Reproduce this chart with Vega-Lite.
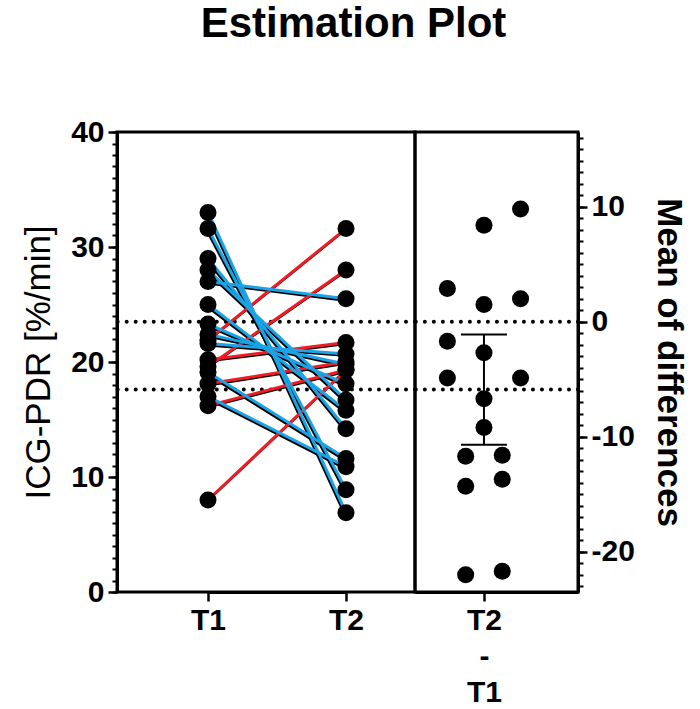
{
  "$schema": "https://vega.github.io/schema/vega-lite/v6.json",
  "background": "white",
  "padding": {"left": 20, "top": 2, "right": 2, "bottom": 0},
  "title": {"text": "Estimation Plot", "fontSize": 42, "font": "Liberation Sans", "fontWeight": "bold", "anchor": "middle", "offset": 70, "color": "black"},
  "config": {
    "font": "Liberation Sans",
    "view": {"stroke": "black", "strokeWidth": 3},
    "axis": {"domainColor": "black", "domainWidth": 3, "tickColor": "black", "tickWidth": 2.5, "labelColor": "black", "labelFont": "Liberation Sans", "labelFontWeight": "bold", "labelFontSize": 30, "titleColor": "black", "titleFont": "Liberation Sans", "grid": false}
  },
  "spacing": 0,
  "bounds": "flush",
  "datasets": {
    "pairs": [
      {"id": "r1", "time": "T1", "value": 21.9, "dir": "up"}, {"id": "r1", "time": "T2", "value": 31.6, "dir": "up"},
      {"id": "r2", "time": "T1", "value": 19.6, "dir": "up"}, {"id": "r2", "time": "T2", "value": 28.0, "dir": "up"},
      {"id": "r3", "time": "T1", "value": 20.2, "dir": "up"}, {"id": "r3", "time": "T2", "value": 21.7, "dir": "up"},
      {"id": "r4", "time": "T1", "value": 18.1, "dir": "up"}, {"id": "r4", "time": "T2", "value": 20.0, "dir": "up"},
      {"id": "r5", "time": "T1", "value": 16.2, "dir": "up"}, {"id": "r5", "time": "T2", "value": 19.3, "dir": "up"},
      {"id": "r6", "time": "T1", "value": 8.0, "dir": "up"}, {"id": "r6", "time": "T2", "value": 19.3, "dir": "up"},
      {"id": "b1", "time": "T1", "value": 33.0, "dir": "down"}, {"id": "b1", "time": "T2", "value": 6.9, "dir": "down"},
      {"id": "b2", "time": "T1", "value": 31.6, "dir": "down"}, {"id": "b2", "time": "T2", "value": 8.9, "dir": "down"},
      {"id": "b3", "time": "T1", "value": 29.0, "dir": "down"}, {"id": "b3", "time": "T2", "value": 14.2, "dir": "down"},
      {"id": "b4", "time": "T1", "value": 28.0, "dir": "down"}, {"id": "b4", "time": "T2", "value": 16.7, "dir": "down"},
      {"id": "b5", "time": "T1", "value": 27.0, "dir": "down"}, {"id": "b5", "time": "T2", "value": 25.5, "dir": "down"},
      {"id": "b6", "time": "T1", "value": 25.0, "dir": "down"}, {"id": "b6", "time": "T2", "value": 15.8, "dir": "down"},
      {"id": "b7", "time": "T1", "value": 23.3, "dir": "down"}, {"id": "b7", "time": "T2", "value": 18.1, "dir": "down"},
      {"id": "b8", "time": "T1", "value": 22.4, "dir": "down"}, {"id": "b8", "time": "T2", "value": 19.8, "dir": "down"},
      {"id": "b9", "time": "T1", "value": 21.6, "dir": "down"}, {"id": "b9", "time": "T2", "value": 20.7, "dir": "down"},
      {"id": "b10", "time": "T1", "value": 19.1, "dir": "down"}, {"id": "b10", "time": "T2", "value": 11.6, "dir": "down"},
      {"id": "b11", "time": "T1", "value": 17.0, "dir": "down"}, {"id": "b11", "time": "T2", "value": 10.9, "dir": "down"}
    ],
    "diffs": [
      {"col": 2, "diff": 9.8}, {"col": 0, "diff": 8.4}, {"col": -2, "diff": 2.9}, {"col": 0, "diff": 1.5},
      {"col": 2, "diff": 2.0}, {"col": -2, "diff": -1.7}, {"col": 0, "diff": -2.7}, {"col": -2, "diff": -4.9},
      {"col": 2, "diff": -4.9}, {"col": 0, "diff": -6.7}, {"col": 0, "diff": -9.2}, {"col": -1, "diff": -11.7},
      {"col": 1, "diff": -11.6}, {"col": -1, "diff": -14.3}, {"col": 1, "diff": -13.7}, {"col": -1, "diff": -22.0},
      {"col": 1, "diff": -21.7}
    ],
    "refs_left": [{"level": 23.5}, {"level": 17.6}],
    "refs_right": [{"level": 0}, {"level": -5.9}],
    "ci": [{"col": 0, "lo": -10.7, "hi": -1.1}]
  },
  "hconcat": [
    {
      "width": 298,
      "height": 460,
      "layer": [
        {
          "data": {"name": "refs_left"},
          "mark": {"type": "rule", "strokeDash": [0.01, 9], "strokeCap": "round", "strokeWidth": 4, "color": "black"},
          "encoding": {
            "y": {"field": "level", "type": "quantitative", "scale": {"domain": [0, 40], "nice": false},
              "axis": {"orient": "left", "values": [0,1,2,3,4,5,6,7,8,9,10,11,12,13,14,15,16,17,18,19,20,21,22,23,24,25,26,27,28,29,30,31,32,33,34,35,36,37,38,39,40], "labels": false, "tickSize": 5, "tickWidth": 2, "domain": false, "title": null}}
          }
        },
        {
          "data": {"name": "pairs"},
          "mark": {"type": "line", "color": "black", "strokeWidth": 2.6, "xOffset": -1.3, "yOffset": 1.6},
          "encoding": {
            "x": {"field": "time", "type": "nominal", "scale": {"type": "point", "domain": ["T1", "T2"], "range": [91, 229], "padding": 0}, "axis": {"title": null, "labelAngle": 0, "tickSize": 9, "labelPadding": 4, "domain": true}},
            "y": {"field": "value", "type": "quantitative", "axis": null},
            "detail": {"field": "id"}
          }
        },
        {
          "data": {"name": "pairs"},
          "mark": {"type": "line", "strokeWidth": 3},
          "encoding": {
            "x": {"field": "time", "type": "nominal"},
            "y": {"field": "value", "type": "quantitative", "axis": null},
            "detail": {"field": "id"},
            "color": {"field": "dir", "type": "nominal", "scale": {"domain": ["down", "up"], "range": ["#1ba3e6", "#ee1c25"]}, "legend": null}
          }
        },
        {
          "data": {"name": "pairs"},
          "mark": {"type": "circle", "size": 290, "opacity": 1, "color": "black"},
          "encoding": {
            "x": {"field": "time", "type": "nominal"},
            "y": {"field": "value", "type": "quantitative",
              "axis": {"orient": "left", "values": [0, 10, 20, 30, 40], "tickSize": 9, "title": "ICG-PDR [%/min]", "titleFontWeight": "normal", "titleFontSize": 35, "labelPadding": 4, "titlePadding": 14}}
          }
        }
      ],
      "resolve": {"axis": {"y": "independent"}}
    },
    {
      "width": 163,
      "height": 460,
      "layer": [
        {
          "data": {"name": "refs_right"},
          "mark": {"type": "rule", "strokeDash": [0.01, 9], "strokeCap": "round", "strokeWidth": 4, "color": "black"},
          "encoding": {
            "y": {"field": "level", "type": "quantitative", "scale": {"domain": [-23.5, 16.5], "nice": false, "zero": false},
              "axis": {"orient": "right", "values": [-23,-22,-21,-20,-19,-18,-17,-16,-15,-14,-13,-12,-11,-10,-9,-8,-7,-6,-5,-4,-3,-2,-1,0,1,2,3,4,5,6,7,8,9,10,11,12,13,14,15,16], "labels": false, "tickSize": 5, "tickWidth": 2, "domain": false, "title": null}}
          }
        },
        {
          "data": {"name": "ci"},
          "mark": {"type": "rule", "strokeWidth": 2, "color": "black", "opacity": 1},
          "encoding": {
            "x": {"field": "col", "type": "quantitative"},
            "y": {"field": "lo", "type": "quantitative", "axis": null},
            "y2": {"field": "hi"}
          }
        },
        {
          "data": {"name": "ci"},
          "mark": {"type": "tick", "orient": "horizontal", "size": 46, "thickness": 2, "color": "black", "opacity": 1},
          "encoding": {
            "x": {"field": "col", "type": "quantitative"},
            "y": {"field": "lo", "type": "quantitative", "axis": null}
          }
        },
        {
          "data": {"name": "ci"},
          "mark": {"type": "tick", "orient": "horizontal", "size": 46, "thickness": 2, "color": "black", "opacity": 1},
          "encoding": {
            "x": {"field": "col", "type": "quantitative"},
            "y": {"field": "hi", "type": "quantitative", "axis": null}
          }
        },
        {
          "data": {"name": "diffs"},
          "mark": {"type": "circle", "size": 290, "opacity": 1, "color": "black"},
          "encoding": {
            "x": {"field": "col", "type": "quantitative", "scale": {"domain": [-3.77, 5.14], "nice": false, "zero": false},
              "axis": {"values": [0], "labelExpr": "['T2', '-', 'T1']", "title": null, "tickSize": 9, "labelPadding": 4, "labelLineHeight": 36}},
            "y": {"field": "diff", "type": "quantitative",
              "axis": {"orient": "right", "values": [-20, -10, 0, 10], "labelExpr": "'' + datum.value", "tickSize": 9, "title": "Mean of differences", "titleFontWeight": "bold", "titleFontSize": 35, "labelPadding": 4, "titlePadding": 16}}
          }
        }
      ],
      "resolve": {"axis": {"y": "independent"}}
    }
  ]
}
